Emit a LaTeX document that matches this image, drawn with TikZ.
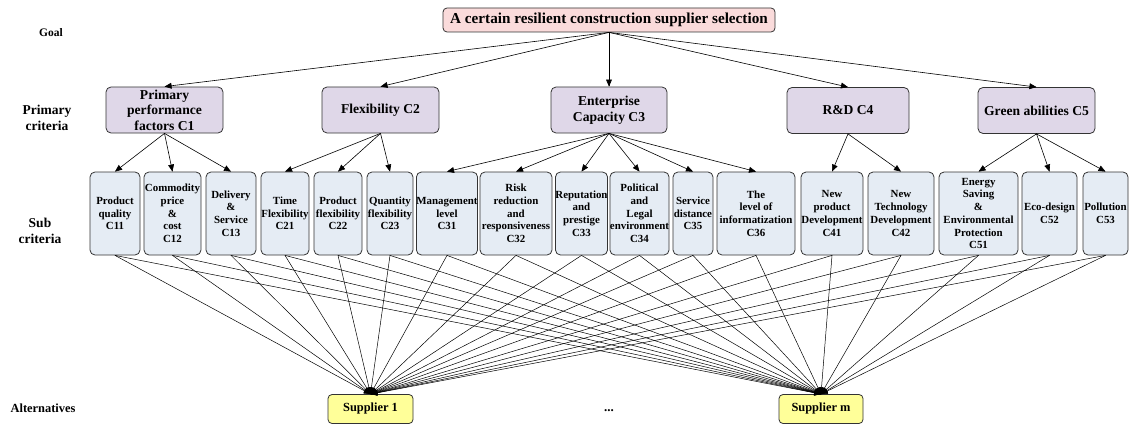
\documentclass[tikz,border=0pt]{standalone}
\usepackage{fontspec}
\setmainfont{Liberation Serif}
\usepackage{tikz}
\usetikzlibrary{arrows}
\definecolor{ffdcdc}{rgb}{0.98,0.86,0.86}
\definecolor{dfd7e8}{rgb}{0.875,0.843,0.91}
\definecolor{e6ecf4}{rgb}{0.90,0.925,0.955}
\definecolor{ffff99}{rgb}{1.0,1.0,0.6}
\definecolor{qqqqqq}{rgb}{0.2,0.2,0.2}
\tikzset{
  goalbox/.style={draw=qqqqqq,line width=0.8pt,rounded corners=4pt,fill=ffdcdc,
    minimum width=332pt,minimum height=24pt,inner sep=0pt,font=\fontsize{15.2}{17}\selectfont\bfseries},
  critbox/.style={draw=qqqqqq,line width=0.8pt,rounded corners=5pt,fill=dfd7e8,
    minimum width=117pt,minimum height=46pt,inner sep=0pt,align=center,font=\fontsize{13.6}{15.5}\selectfont\bfseries},
  subbox/.style={draw=qqqqqq,line width=0.8pt,rounded corners=5pt,fill=e6ecf4,
    minimum height=83pt,inner sep=0pt,align=center,font=\fontsize{10.9}{12.7}\selectfont\bfseries},
  altbox/.style={draw=qqqqqq,line width=0.8pt,rounded corners=4pt,fill=ffff99,
    minimum height=29pt,inner sep=0pt,font=\fontsize{12.4}{14}\selectfont\bfseries},
  levellabel/.style={align=center,font=\fontsize{13.5}{16}\selectfont\bfseries}
}
\begin{document}
\begin{tikzpicture}[line cap=round,line join=round,>=triangle 45,x=1pt,y=-1pt]
\useasboundingbox (0,0) rectangle (1131,425);
\node[levellabel,font=\fontsize{11.5}{13}\selectfont\bfseries] (lgoal) at (51,33) {Goal};
\node[levellabel] (lprim) at (47,118) {Primary\\criteria};
\node[levellabel] (lsub) at (40,231) {Sub\\criteria};
\node[levellabel,font=\fontsize{12.4}{14}\selectfont\bfseries] (lalt) at (43,408) {Alternatives};
\node[goalbox] (goal) at (609,20) {A certain resilient construction supplier selection};
\node[critbox] (c1) at (164.5,110) {Primary\\performance\\factors C1};
\node[critbox] (c2) at (380.5,110) {Flexibility C2};
\node[critbox,minimum width=116pt] (c3) at (609,110) {Enterprise\\Capacity C3};
\node[critbox,minimum width=122pt] (c4) at (848,110.5) {R\&D C4};
\node[critbox] (c5) at (1036.5,110.5) {Green abilities C5};
\node[subbox,minimum width=50pt] (c11) at (115,213.5) {Product\\quality\\C11};
\node[subbox,minimum width=57pt] (c12) at (172.5,213.5) {Commodity\\price\\\&\\cost\\C12};
\node[subbox,minimum width=50pt] (c13) at (231,213.5) {Delivery\\\&\\Service\\C13};
\node[subbox,minimum width=48pt] (c21) at (285,213.5) {Time\\Flexibility\\C21};
\node[subbox,minimum width=48pt] (c22) at (338,213.5) {Product\\flexibility\\C22};
\node[subbox,minimum width=46pt] (c23) at (390,213.5) {Quantity\\flexibility\\C23};
\node[subbox,minimum width=60pt] (c31) at (447,213.5) {Management\\level\\C31};
\node[subbox,minimum width=72pt] (c32) at (516,213.5) {Risk\\reduction\\and\\responsiveness\\C32};
\node[subbox,minimum width=51pt] (c33) at (581.5,213.5) {Reputation\\and\\prestige\\C33};
\node[subbox,minimum width=59pt] (c34) at (639.5,213.5) {Political\\and\\Legal\\environment\\C34};
\node[subbox,minimum width=40pt] (c35) at (693,213.5) {Service\\distance\\C35};
\node[subbox,minimum width=78pt] (c36) at (756,213.5) {The\\level of\\informatization\\C36};
\node[subbox,minimum width=62pt] (c41) at (832,213.5) {New\\product\\Development\\C41};
\node[subbox,minimum width=66pt] (c42) at (901,213.5) {New\\Technology\\Development\\C42};
\node[subbox,minimum width=79pt] (c51) at (978.5,213.5) {Energy\\Saving\\\&\\Environmental\\Protection\\C51};
\node[subbox,minimum width=55pt] (c52) at (1049.5,213.5) {Eco-design\\C52};
\node[subbox,minimum width=45pt] (c53) at (1105.5,213.5) {Pollution\\C53};
\node[altbox,minimum width=85pt] (sup1) at (370.5,409) {Supplier 1};
\node[altbox,minimum width=84pt] (supm) at (821,409) {Supplier m};
\node[font=\fontsize{13}{14}\selectfont\bfseries] (dots) at (609,411) {...};
\draw [->,line width=0.6pt] (goal.south) -- (c1.north);
\draw [->,line width=0.6pt] (goal.south) -- (c2.north);
\draw [->,line width=0.6pt] (goal.south) -- (c3.north);
\draw [->,line width=0.6pt] (goal.south) -- (c4.north);
\draw [->,line width=0.6pt] (goal.south) -- (c5.north);
\draw [->,line width=0.6pt] (c1.south) -- (c11.north);
\draw [->,line width=0.6pt] (c1.south) -- (c12.north);
\draw [->,line width=0.6pt] (c1.south) -- (c13.north);
\draw [->,line width=0.6pt] (c2.south) -- (c21.north);
\draw [->,line width=0.6pt] (c2.south) -- (c22.north);
\draw [->,line width=0.6pt] (c2.south) -- (c23.north);
\draw [->,line width=0.6pt] (c3.south) -- (c31.north);
\draw [->,line width=0.6pt] (c3.south) -- (c32.north);
\draw [->,line width=0.6pt] (c3.south) -- (c33.north);
\draw [->,line width=0.6pt] (c3.south) -- (c34.north);
\draw [->,line width=0.6pt] (c3.south) -- (c35.north);
\draw [->,line width=0.6pt] (c3.south) -- (c36.north);
\draw [->,line width=0.6pt] (c4.south) -- (c41.north);
\draw [->,line width=0.6pt] (c4.south) -- (c42.north);
\draw [->,line width=0.6pt] (c5.south) -- (c51.north);
\draw [->,line width=0.6pt] (c5.south) -- (c52.north);
\draw [->,line width=0.6pt] (c5.south) -- (c53.north);
\foreach \s in {c11,c12,c13,c21,c22,c23,c31,c32,c33,c34,c35,c36,c41,c42,c51,c52,c53} {
  \draw [->,line width=0.5pt] (\s.south) -- (sup1.north);
  \draw [->,line width=0.5pt] (\s.south) -- (supm.north);
}
\end{tikzpicture}
\end{document}
